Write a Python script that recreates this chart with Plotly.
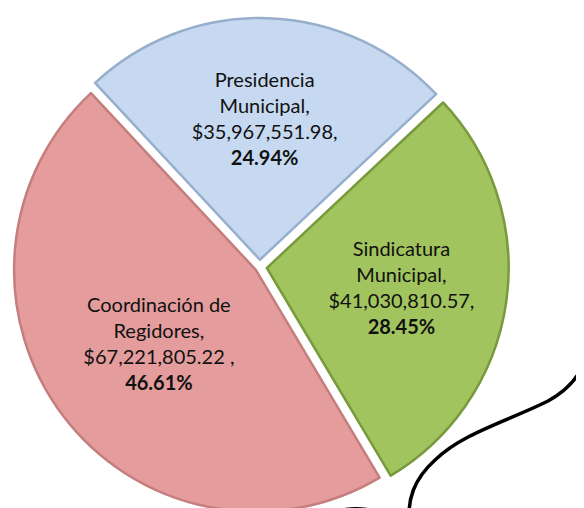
import plotly.graph_objects as go

# ---- data ----
labels = ["Presidencia Municipal", "Sindicatura Municipal", "Coordinación de Regidores"]
label_lines = ["Presidencia<br>Municipal", "Sindicatura<br>Municipal", "Coordinación de<br>Regidores"]
values = [35967551.98, 41030810.57, 67221805.22]
amount_sep = [",", ",", " ,"]

colors = ["#C6D9F1", "#A2C45E", "#E49D9C"]
edge_colors = ["#97AFCC", "#789A3C", "#C47E7D"]
pulls = [0.03, 0.03, 0.02]

W, H = 584, 508
M_T = 10

texts = [f"{ll},<br>${v:,.2f}{s}<br><b>%{{percent:.2%}}</b>"
         for ll, v, s in zip(label_lines, values, amount_sep)]

fig = go.Figure(go.Pie(
    labels=labels,
    values=values,
    sort=False,
    direction="clockwise",
    rotation=-43,
    pull=pulls,
    texttemplate=texts,
    textposition="inside",
    insidetextorientation="horizontal",
    textfont=dict(family="Lato", size=20, color="#111111"),
    marker=dict(colors=colors, line=dict(color=edge_colors, width=2.5)),
    showlegend=False,
    hoverinfo="label+value+percent",
    domain=dict(x=[0.0, 0.862], y=[0, 1]),
))

# decorative curved line (pixel coords converted to paper)
def px(x, y):
    return f"{x / W:.4f},{(H - y) / (H - M_T):.4f}"

curve1 = ("M " + px(581, 300) + " C " + px(583, 345) + " " + px(578, 372) + " " + px(540, 393)
          + " C " + px(500, 413) + " " + px(455, 425) + " " + px(427, 452)
          + " C " + px(405, 472) + " " + px(400, 492) + " " + px(401, 512))
curve2 = "M " + px(316, 512) + " C " + px(330, 497) + " " + px(366, 497) + " " + px(381, 512)

for p in (curve1, curve2):
    fig.add_shape(type="path", path=p, xref="paper", yref="paper",
                  line=dict(color="#000000", width=3.5), layer="above")

fig.update_layout(
    width=W, height=H,
    margin=dict(l=0, r=0, t=M_T, b=0),
    paper_bgcolor="white",
    plot_bgcolor="white",
)

fig.write_html("out.html")
